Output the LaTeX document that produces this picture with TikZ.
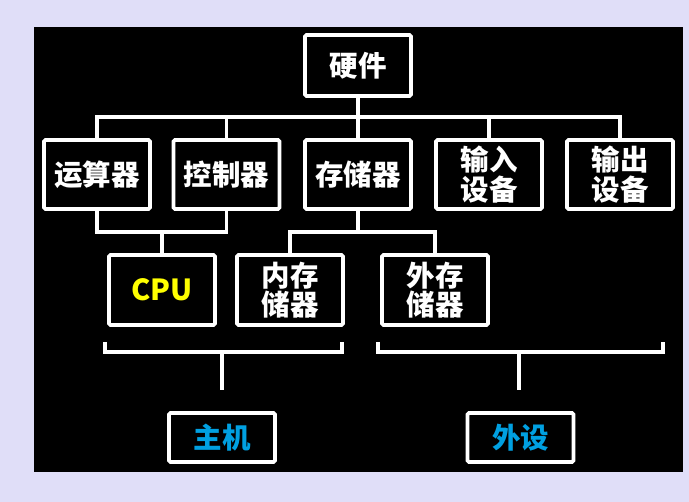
\documentclass[tikz,border=0pt]{standalone}
\usepackage{fontspec}
\newfontfamily\cjk{Noto Sans CJK SC}
\usetikzlibrary{calc}
\definecolor{lavbg}{RGB}{224,222,248}
\definecolor{hostblue}{RGB}{0,160,225}
\definecolor{cpuyellow}{RGB}{255,255,0}

\begin{document}
\begin{tikzpicture}[x=1pt,y=-1pt,line width=3.5pt,
  hwbox/.style={draw=white,line width=3.8pt,rounded corners=1.5pt,fill=black,
    minimum width=106pt,minimum height=69pt,inner sep=0pt,align=center,
    text=white,font=\cjk\bfseries\fontsize{28.5}{29.5}\selectfont},
  wire/.style={draw=white,line width=3.5pt}]
  % background + black screen
  \useasboundingbox (0,0) rectangle (689,502);
  \fill[lavbg] (0,0) rectangle (689,502);
  \fill[black] (34,27) rectangle (683,472);
  % top and second row
  \node[hwbox,minimum height=61pt] (hw) at (358,65.5) {硬件};
  \node[hwbox] (alu) at (97,174.5) {运算器};
  \node[hwbox] (ctl) at (226.5,174.5) {控制器};
  \node[hwbox] (mem) at (358,174.5) {存储器};
  \node[hwbox] (inp) at (489,174.5) {输入\\设备};
  \node[hwbox] (outp) at (620,174.5) {输出\\设备};
  % third row
  \node[hwbox,minimum height=70pt,text=cpuyellow,font=\cjk\bfseries\fontsize{29}{30}\selectfont] (cpu) at (162,290) {CPU};
  \node[hwbox,minimum height=70pt] (ram) at (290,290) {内存\\储器};
  \node[hwbox,minimum height=70pt] (disk) at (435,290) {外存\\储器};
  % bottom
  \node[hwbox,minimum height=49pt,text=hostblue] (host) at (222,437.5) {主机};
  \node[hwbox,minimum height=49pt,text=hostblue] (periph) at (520.5,437.5) {外设};
  % buses
  \coordinate (bus) at (0,117);
  \coordinate (cbus) at (0,232);
  \draw[wire] (alu.north) -- (alu.north |- bus) -- (outp.north |- bus) -- (outp.north);
  \foreach \n in {hw.south,ctl.north,mem.north,inp.north}
    \draw[wire] (\n) -- (\n |- bus);
  \draw[wire] (alu.south) -- (alu.south |- cbus) -- (ctl.south |- cbus) -- (ctl.south);
  \draw[wire] (cpu.north) -- (cpu.north |- cbus);
  \draw[wire] (mem.south) -- (mem.south |- cbus);
  \draw[wire] (ram.north) -- (ram.north |- cbus) -- (disk.north |- cbus) -- (disk.north);
  % brackets
  \coordinate (hostL) at (105,342);
  \coordinate (hostR) at (342,342);
  \coordinate (perL) at (378,342);
  \coordinate (perR) at (663,342);
  \coordinate (hostS) at (222,390);
  \coordinate (perS) at (519,390);
  \draw[wire] (hostL) -- ++(0,10) -- ($(hostR)+(0,10)$) -- (hostR);
  \draw[wire] (perL) -- ++(0,10) -- ($(perR)+(0,10)$) -- (perR);
  \draw[wire] (hostS) -- ($(hostS |- hostL)+(0,10)$);
  \draw[wire] (perS) -- ($(perS |- perL)+(0,10)$);
\end{tikzpicture}
\end{document}
